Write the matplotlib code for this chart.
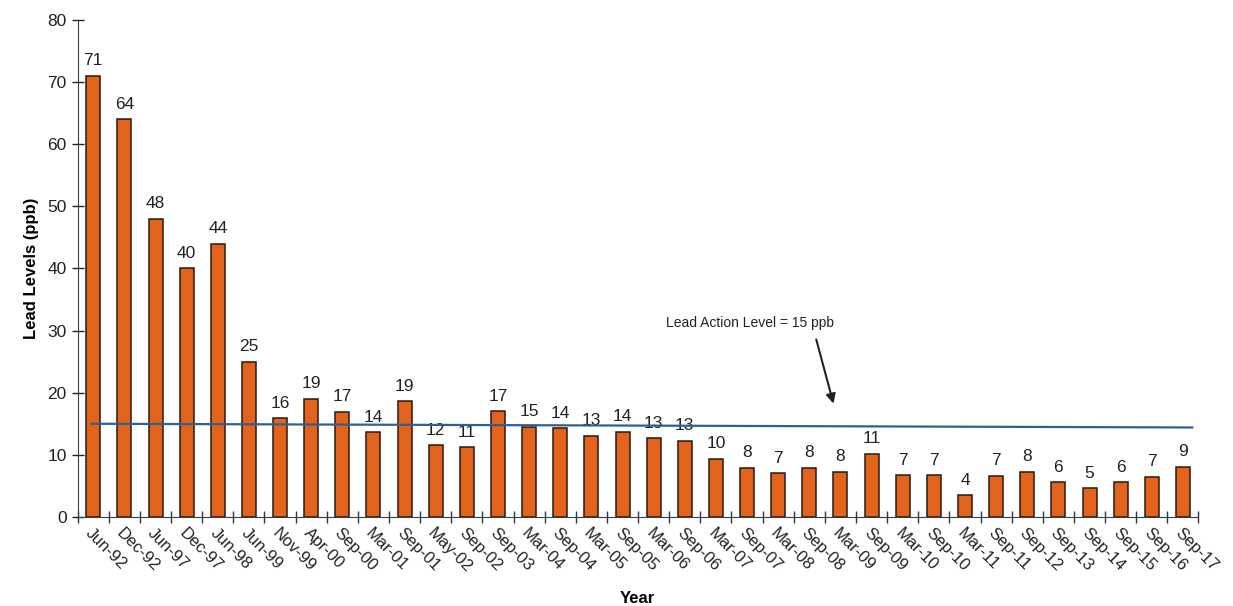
import numpy as np
import matplotlib
matplotlib.use('Agg')
import matplotlib.pyplot as plt
from matplotlib.ticker import FixedLocator

plt.rcParams['font.family'] = ['Liberation Sans', 'DejaVu Sans']

# sampling dates
dates = ['Jun-92', 'Dec-92', 'Jun-97', 'Dec-97', 'Jun-98', 'Jun-99', 'Nov-99', 'Apr-00',
         'Sep-00', 'Mar-01', 'Sep-01', 'May-02', 'Sep-02', 'Sep-03', 'Mar-04', 'Sep-04',
         'Mar-05', 'Sep-05', 'Mar-06', 'Sep-06', 'Mar-07', 'Sep-07', 'Mar-08', 'Sep-08',
         'Mar-09', 'Sep-09', 'Mar-10', 'Sep-10', 'Mar-11', 'Sep-11', 'Sep-12', 'Sep-13',
         'Sep-14', 'Sep-15', 'Sep-16', 'Sep-17']
# bar heights as drawn (ppb)
lead_ppb = [71, 64, 48, 40, 44, 25, 15.9, 19, 16.9, 13.6, 18.6, 11.5, 11.2, 17, 14.5, 14.3,
            13.1, 13.7, 12.7, 12.3, 9.4, 7.9, 7.0, 7.9, 7.3, 10.2, 6.7, 6.7, 3.5, 6.6, 7.3,
            5.6, 4.6, 5.6, 6.5, 8.1]
# values printed above the bars
printed = [71, 64, 48, 40, 44, 25, 16, 19, 17, 14, 19, 12, 11, 17, 15, 14,
           13, 14, 13, 13, 10, 8, 7, 8, 8, 11, 7, 7, 4, 7, 8,
           6, 5, 6, 7, 9]
action_level = 15

fig = plt.figure(figsize=(12.33, 6.06), dpi=100)
ax = fig.add_axes([0.063, 0.147, 0.909, 0.82])

x = np.arange(len(dates))
ax.bar(x, lead_ppb, width=0.45, color='#e2631c', edgecolor='#2a1a10', linewidth=1.1, zorder=2)

for xi, h, p in zip(x, lead_ppb, printed):
    ax.text(xi, h + 1.2, str(p), ha='center', va='bottom', fontsize=12.5, color='#222222')

# action level line (slightly tilted in the scan)
ax.plot([x[0] - 0.05, x[-1] + 0.3], [action_level, action_level - 0.6], color='#2f5f95',
        linewidth=1.6, zorder=3)

ax.text(21.1, 31.2, 'Lead Action Level = 15 ppb', ha='center', va='center', fontsize=10,
        color='#222222')
ax.annotate('', xy=(23.8, 17.8), xytext=(23.2, 29.0),
            arrowprops=dict(arrowstyle='-|>', color='#222222', lw=1.5, mutation_scale=14))

ax.set_xlim(-0.5, len(dates) - 0.5)
ax.set_ylim(0, 80)
ax.set_yticks(np.arange(0, 81, 10))
ax.tick_params(axis='y', labelsize=12.5, direction='inout', length=9, width=1, colors='#222222')

ax.set_xticks(x)
ax.set_xticklabels(dates, rotation=-45, ha='left', va='top', rotation_mode='anchor',
                   fontsize=12, color='#222222')
ax.tick_params(axis='x', length=0, pad=6)
ax.xaxis.set_minor_locator(FixedLocator(np.arange(-0.5, len(dates), 1.0)))
ax.tick_params(axis='x', which='minor', direction='inout', length=9, width=1, color='#333333')

for s in ['top', 'right']:
    ax.spines[s].set_visible(False)
ax.spines['left'].set_color('#34404a')
ax.spines['bottom'].set_color('#34404a')

ax.set_ylabel('Lead Levels (ppb)', fontsize=12, fontweight='bold', labelpad=6)
fig.text(0.517, 0.0, 'Year', ha='center', va='bottom', fontsize=12, fontweight='bold')

fig.savefig('out.png', dpi=100, facecolor='white')
